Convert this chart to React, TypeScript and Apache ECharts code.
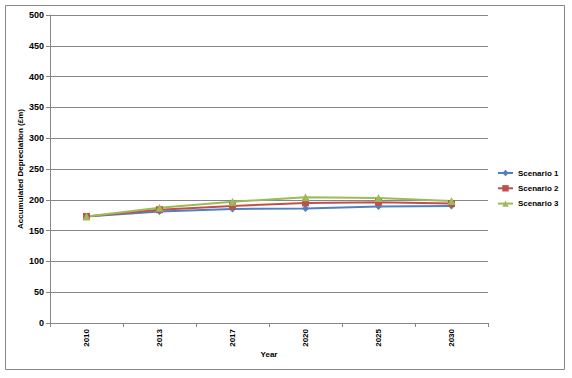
import React, { useEffect, useRef } from "react";
import * as echarts from "echarts";

const years = ["2010", "2013", "2017", "2020", "2025", "2030"];
const scenario1 = [173, 181, 185, 186, 189, 190];
const scenario2 = [173, 184, 190, 195, 196, 194];
const scenario3 = [173, 187, 197, 204, 203, 198];
const yTicks = { min: 0, max: 500, interval: 50 };

const FONT = "'Liberation Sans', Arial, sans-serif";

export default function App() {
  const ref = useRef<HTMLDivElement>(null);
  useEffect(() => {
    if (!ref.current) return;
    const chart = echarts.init(ref.current, undefined, { renderer: "svg" });
    const mk = (name: string, data: number[], color: string, symbol: string, size: number) => ({
      name,
      type: "line",
      data,
      symbol,
      symbolSize: size,
      lineStyle: { color, width: 2 },
      itemStyle: { color },
      color,
    });
    chart.setOption({
      animation: false,
      backgroundColor: "#ffffff",
      textStyle: { fontFamily: FONT },
      graphic: [
        {
          type: "rect",
          shape: { x: 5.5, y: 5.5, width: 559, height: 364 },
          style: { fill: "none", stroke: "#868686", lineWidth: 1 },
          silent: true,
        },
      ],
      grid: { left: 50, top: 15, width: 438, height: 308, containLabel: false },
      legend: {
        orient: "vertical",
        left: 497,
        top: 169,
        padding: 0,
        itemWidth: 15,
        itemHeight: 8,
        itemGap: 7.3,
        textStyle: { fontSize: 8, fontWeight: "bold", color: "#000", fontFamily: FONT },
        data: ["Scenario 1", "Scenario 2", "Scenario 3"],
      },
      xAxis: {
        type: "category",
        data: years,
        boundaryGap: true,
        name: "Year",
        nameLocation: "middle",
        nameGap: 27.5,
        nameMoveOverlap: false,
        nameTextStyle: { fontSize: 8, fontWeight: "bold", color: "#000" },
        axisLine: { lineStyle: { color: "#868686", width: 1 } },
        axisTick: { show: true, length: 4, inside: false, lineStyle: { color: "#868686" } },
        axisLabel: { rotate: 90, fontSize: 8, fontWeight: "bold", color: "#000", margin: 6 },
        splitLine: { show: false },
      },
      yAxis: {
        type: "value",
        min: yTicks.min,
        max: yTicks.max,
        interval: yTicks.interval,
        name: "Accumulated Depreciation (£m)",
        nameLocation: "middle",
        nameGap: 26,
        nameMoveOverlap: false,
        nameTextStyle: { fontSize: 8, fontWeight: "bold", color: "#000" },
        axisLine: { show: true, lineStyle: { color: "#868686", width: 1 } },
        axisTick: { show: true, length: 4, lineStyle: { color: "#868686" } },
        axisLabel: { fontSize: 9, fontWeight: "bold", color: "#000", margin: 6 },
        splitLine: { show: true, lineStyle: { color: "#868686", width: 1 } },
      },
      series: [
        mk("Scenario 1", scenario1, "#4F81BD", "diamond", 7),
        mk("Scenario 2", scenario2, "#C0504D", "rect", 7),
        mk("Scenario 3", scenario3, "#9BBB59", "triangle", 8),
      ],
    });
    return () => chart.dispose();
  }, []);
  return (
    <div
      ref={ref}
      style={{ position: "fixed", left: 0, top: 0, width: 572, height: 378 }}
    />
  );
}
